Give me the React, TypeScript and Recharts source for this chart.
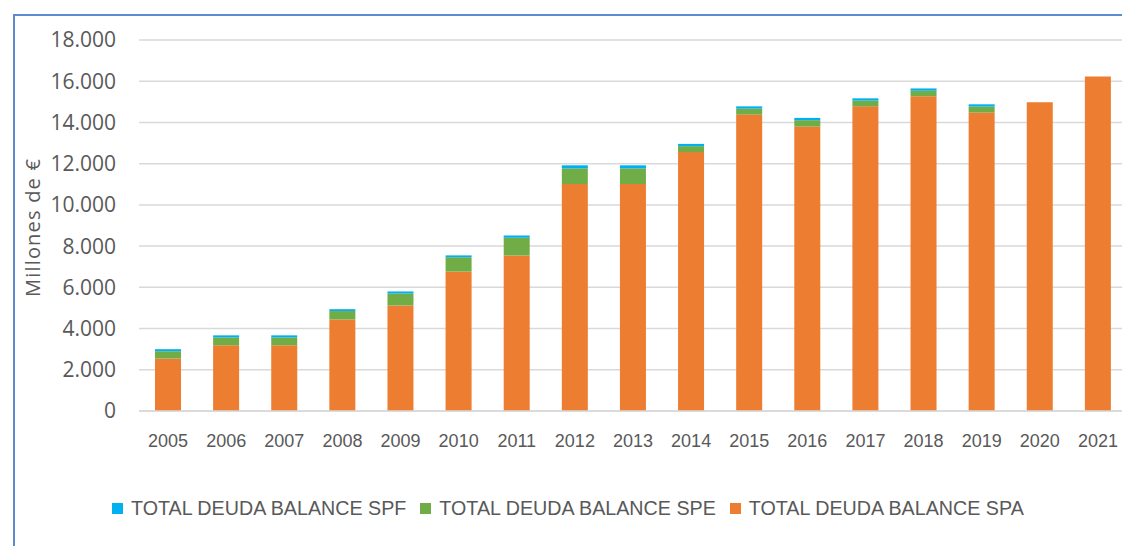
import { Bar, BarChart, CartesianGrid, XAxis, YAxis } from 'recharts';

const YEARS = ['2005', '2006', '2007', '2008', '2009', '2010', '2011', '2012', '2013', '2014', '2015', '2016', '2017', '2018', '2019', '2020', '2021'];
const SPA = [2540, 3190, 3190, 4440, 5120, 6760, 7540, 11010, 11010, 12560, 14380, 13800, 14780, 15270, 14480, 14980, 16230];
const SPE = [360, 380, 380, 410, 580, 700, 870, 760, 760, 290, 290, 310, 280, 270, 290, 0, 0];
const SPF = [100, 100, 100, 90, 100, 90, 110, 150, 150, 110, 110, 110, 110, 110, 110, 0, 0];
const Y_TICKS = [0, 2000, 4000, 6000, 8000, 10000, 12000, 14000, 16000, 18000];

const BLUE = '#00b0f0';
const GREEN = '#70ad47';
const ORANGE = '#ed7d31';
const TEXT = '#595959';
const FONT = '"Liberation Sans", sans-serif';
const WIDE_FONT = '"Open Sans", sans-serif';

const LEGEND = [
  { label: 'TOTAL DEUDA BALANCE SPF', color: BLUE },
  { label: 'TOTAL DEUDA BALANCE SPE', color: GREEN },
  { label: 'TOTAL DEUDA BALANCE SPA', color: ORANGE },
];

const data = YEARS.map((year, i) => ({ year, spa: SPA[i], spe: SPE[i], spf: SPF[i] }));

const fmtThousands = (v: number) => v.toLocaleString('de-DE');

function AxisTitle({ viewBox }: { viewBox?: { x: number; y: number; width: number; height: number } }) {
  if (!viewBox) return null;
  const cx = 32;
  const cy = viewBox.y + viewBox.height / 2 + 2;
  return (
    <text
      x={cx}
      y={cy}
      transform={`rotate(-90, ${cx}, ${cy})`}
      textAnchor="middle"
      dominantBaseline="central"
      fill={TEXT}
      fontSize={20}
      fontFamily={WIDE_FONT}
      letterSpacing={1.2}
    >
      Millones de €
    </text>
  );
}

export default function App() {
  return (
    <div style={{ margin: -8, width: 1130, height: 554, position: 'relative', overflow: 'hidden', background: '#fff' }}>
      <div
        style={{
          position: 'absolute',
          left: 13,
          top: 14,
          width: 1130,
          height: 560,
          borderLeft: '2px solid #5b8bd0',
          borderTop: '2px solid #5b8bd0',
        }}
      />
      <BarChart
        width={1130}
        height={554}
        data={data}
        margin={{ top: 40, right: 3, bottom: 113, left: 0 }}
        barSize={26}
        style={{ position: 'absolute', left: 0, top: 0 }}
      >
        <CartesianGrid vertical={false} stroke="#d9d9d9" strokeWidth={1.5} />
        <XAxis
          dataKey="year"
          axisLine={{ stroke: '#d9d9d9', strokeWidth: 1.5 }}
          tickLine={false}
          tickMargin={17}
          interval={0}
          tick={{ fill: TEXT, fontSize: 18, fontFamily: FONT }}
        />
        <YAxis
          width={139}
          domain={[0, 18000]}
          ticks={Y_TICKS}
          axisLine={false}
          tickLine={false}
          tickMargin={17}
          tickFormatter={fmtThousands}
          tick={{ fill: TEXT, fontSize: 21, fontFamily: WIDE_FONT }}
          label={<AxisTitle />}
        />
        <Bar dataKey="spa" stackId="a" fill={ORANGE} isAnimationActive={false} />
        <Bar dataKey="spe" stackId="a" fill={GREEN} isAnimationActive={false} />
        <Bar dataKey="spf" stackId="a" fill={BLUE} isAnimationActive={false} />
      </BarChart>
      <div
        style={{
          position: 'absolute',
          left: 112,
          top: 497,
          display: 'flex',
          gap: 14,
          fontFamily: FONT,
          fontSize: 19.7,
          color: TEXT,
          whiteSpace: 'nowrap',
        }}
      >
        {LEGEND.map((item) => (
          <div key={item.label} style={{ display: 'flex', alignItems: 'center', gap: 8 }}>
            <span style={{ width: 11, height: 11, background: item.color, display: 'inline-block' }} />
            <span>{item.label}</span>
          </div>
        ))}
      </div>
    </div>
  );
}
